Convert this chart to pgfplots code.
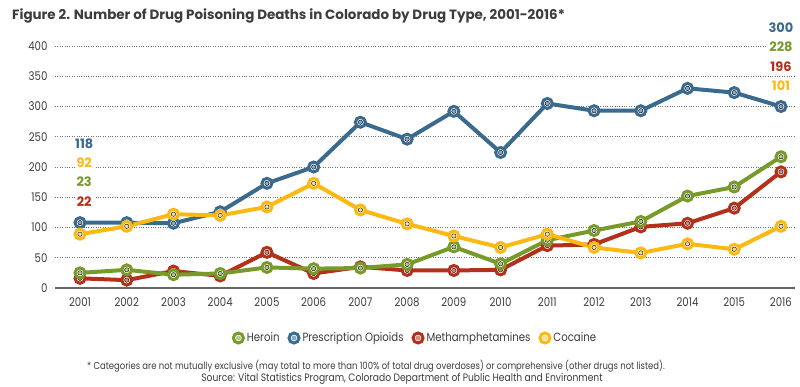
\documentclass[border=0pt]{standalone}
\usepackage{fontspec}
\setmainfont{Poppins}
\newfontfamily\condfont{Poppins}[FakeStretch=0.85]
\usepackage{pgfplots}
\pgfplotsset{compat=1.18}
\definecolor{cblue}{HTML}{3A6B8F}
\definecolor{cbluel}{HTML}{8EA8C2}
\definecolor{cgreen}{HTML}{789A2B}
\definecolor{cgreenl}{HTML}{B6C78E}
\definecolor{cred}{HTML}{B3301A}
\definecolor{credl}{HTML}{D98A7F}
\definecolor{cyel}{HTML}{FDB913}
\definecolor{cyell}{HTML}{FDDB8C}
\definecolor{txt}{HTML}{3C3C3C}
\pgfplotsset{
  ringleg/.style n args={2}{legend image code/.code={
    \draw[draw=#1, fill=white, line width=3bp] (6bp,0) circle (5bp);
    \fill[#2] (6bp,0) circle (2.2bp);}},
  ser/.style n args={2}{#1, line width=4bp, mark=*, mark size=5bp,
    mark options={draw=#1, fill=white, line width=3bp}},
  dot/.style={only marks, mark=*, mark size=2.2bp, mark options={draw=none, fill=#1}, forget plot},
}
\pgfplotstableread{
x blue red green yel
2001 108 16 25 89
2002 108 13 30 102
2003 107 28 22 122
2004 126 20 24 120
2005 173 59 34 134
2006 200 24 32 173
2007 274 35 33 129
2008 246 29 39 106
2009 292 29 68 86
2010 224 30 40 67
2011 305 70 79 89
2012 293 72 95 67
2013 293 101 110 58
2014 330 107 152 73
2015 323 132 167 64
2016 300 192 217 102
}\datatable
\begin{document}
\begin{tikzpicture}[x=1bp,y=1bp]
\path[use as bounding box] (0,0) rectangle (800,386);
\node[anchor=west, inner sep=0, text=txt, font=\bfseries\fontsize{13.5}{15}\selectfont] at (12,370)
  {Figure 2. Number of Drug Poisoning Deaths in Colorado by Drug Type, 2001-2016*};
\begin{axis}[at={(55bp,98bp)}, anchor=south west, scale only axis,
  width=740bp, height=242bp,
  xmin=2000.465, xmax=2016.30, ymin=0, ymax=400,
  clip=false,
  axis x line*=bottom, axis y line*=left,
  x axis line style={draw=black!60, line width=1.3bp, -},
  y axis line style={draw=none},
  xtick={2001,...,2016}, ytick={0,50,...,400},
  major tick style={draw=none},
  ymajorgrids, grid style={dotted, black!55, line width=0.9bp},
  /pgf/number format/assume math mode=true,
  /pgf/number format/1000 sep={},
  tick label style={text=txt, font=\condfont\fontsize{12}{14}\selectfont},
  xticklabel style={yshift=-6bp},
  yticklabel style={xshift=-4bp},
  legend style={at={(axis description cs:0.4865,-0.2066)}, anchor=center, draw=none,
    fill=none, legend columns=4, text=txt,
    font=\condfont\fontsize{12}{14}\selectfont,
    /tikz/every even column/.append style={column sep=6bp},
    /tikz/every odd column/.append style={column sep=0bp}},
  legend cell align=left,
]
\addlegendimage{ringleg={cgreen}{cgreenl}}\addlegendentry{Heroin}
\addlegendimage{ringleg={cblue}{cbluel}}\addlegendentry{Prescription Opioids}
\addlegendimage{ringleg={cred}{credl}}\addlegendentry{Methamphetamines}
\addlegendimage{ringleg={cyel}{cyell}}\addlegendentry{Cocaine}

\addplot[ser={cblue}{}, forget plot] table[x=x, y=blue] {\datatable};
\addplot[dot=cbluel] table[x=x, y=blue] {\datatable};
\addplot[ser={cred}{}, forget plot] table[x=x, y=red] {\datatable};
\addplot[dot=credl] table[x=x, y=red] {\datatable};
\addplot[ser={cgreen}{}, forget plot] table[x=x, y=green] {\datatable};
\addplot[dot=cgreenl] table[x=x, y=green] {\datatable};
\addplot[ser={cyel}{}, forget plot] table[x=x, y=yel] {\datatable};
\addplot[dot=cyell] table[x=x, y=yel] {\datatable};

\begin{scope}[every node/.style={fill=white, inner sep=2bp}, font=\bfseries\fontsize{13}{15}\selectfont]
\node[text=cblue] at (axis cs:2001.09,238) {118};
\node[text=cyel] at (axis cs:2001.09,207) {92};
\node[text=cgreen] at (axis cs:2001.09,175) {23};
\node[text=cred] at (axis cs:2001.09,142) {22};
\node[text=cblue] at (axis cs:2016.0,431) {300};
\node[text=cgreen] at (axis cs:2016.0,398) {228};
\node[text=cred] at (axis cs:2016.0,365) {196};
\node[text=cyel] at (axis cs:2016.0,334) {101};
\end{scope}
\end{axis}
\node[text=txt, inner sep=0, font=\condfont\fontsize{10}{12}\selectfont] at (376,20)
  {* Categories are not mutually exclusive (may total to more than 100\% of total drug overdoses) or comprehensive (other drugs not listed).};
\node[text=txt, inner sep=0, font=\condfont\fontsize{10.8}{12}\selectfont] at (402,7)
  {Source: Vital Statistics Program, Colorado Department of Public Health and Environment};
\end{tikzpicture}
\end{document}
